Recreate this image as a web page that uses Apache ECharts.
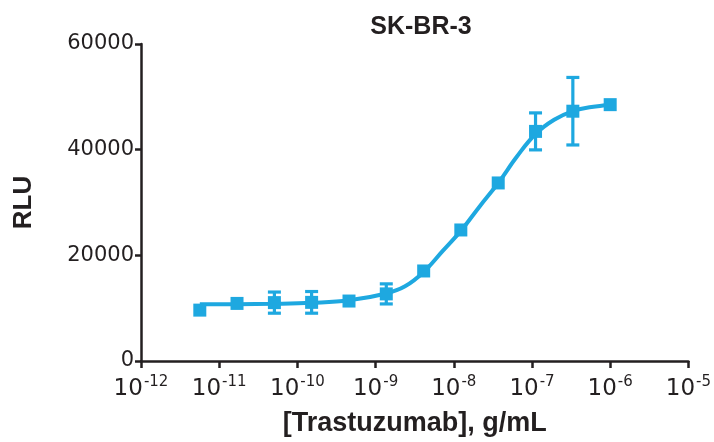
<!DOCTYPE html>
<html>
<head>
<meta charset="utf-8">
<script src="https://cdn.jsdelivr.net/npm/echarts@6/dist/echarts.min.js"></script>
<style>html,body{margin:0;padding:0;background:#fff}#c{width:714px;height:442px}</style>
</head>
<body>
<div id="c"></div>
<script>
// Concentrations (g/mL), 3-fold dilution series
var conc = [5.65e-12, 1.69e-11, 5.08e-11, 1.52e-10, 4.57e-10, 1.37e-9, 4.12e-9, 1.23e-8, 3.70e-8, 1.11e-7, 3.33e-7, 1e-6];
// Mean RLU
var rlu = [9630, 10900, 11050, 11100, 11350, 12700, 17040, 24800, 33700, 43460, 47280, 48520];
// Error (+/-) RLU
var err = [0, 0, 2000, 2050, 0, 1900, 0, 0, 0, 3500, 6390, 0];
// Fitted curve samples
var curveX = [5.65e-12, 1.69e-11, 5.08e-11, 1.52e-10, 4.57e-10, 1.37e-9, 2.38e-9, 4.12e-9, 7.13e-9, 1.23e-8, 2.14e-8, 3.70e-8, 6.42e-8, 1.11e-7, 1.92e-7, 3.33e-7, 5.77e-7, 1e-6];
var curveY = [10740, 10750, 10830, 11020, 11480, 12780, 14130, 16850, 20740, 24630, 29260, 33700, 38700, 42960, 45650, 47310, 48060, 48520];
var yTicks = [0, 20000, 40000, 60000];

var COLOR = '#1ea8e0';
var INK = '#231f20';
var FONT = 'Liberation Sans, Arial, Helvetica, sans-serif';
var TICKFONT = 'DejaVu Sans, sans-serif';

var chart = echarts.init(document.getElementById('c'));
var points = conc.map(function (c, i) { return [c, rlu[i]]; });
var bars = [];
conc.forEach(function (c, i) { if (err[i] > 0) bars.push([c, rlu[i] - err[i], rlu[i] + err[i]]); });
var curve = curveX.map(function (c, i) { return [c, curveY[i]]; });

chart.setOption({
  animation: false,
  title: {
    text: 'SK-BR-3', left: 416, top: 10, textAlign: 'center',
    textStyle: { fontFamily: FONT, fontSize: 25, fontWeight: 'bold', color: INK }
  },
  grid: { left: 141, right: 23, top: 44, bottom: 74, containLabel: false },
  xAxis: {
    type: 'log', logBase: 10, min: 1e-12, max: 1e-5, splitNumber: 7,
    name: '[Trastuzumab], g/mL', nameLocation: 'middle', nameGap: 49,
    nameTextStyle: { fontFamily: FONT, fontSize: 27, fontWeight: 'bold', color: INK },
    axisLine: { lineStyle: { color: INK, width: 2.5 } },
    axisTick: { length: 7, lineStyle: { color: INK, width: 2.5 } },
    splitLine: { show: false },
    minorTick: { show: false },
    axisLabel: {
      margin: 14,
      formatter: function (v) {
        var e = Math.round(Math.log10(v));
        return '{b|10}{s|' + e + '}';
      },
      rich: {
        b: { fontFamily: TICKFONT, fontSize: 23, color: INK },
        s: { fontFamily: TICKFONT, fontSize: 15, color: INK, padding: [0, 0, 14, 1] }
      }
    }
  },
  yAxis: {
    type: 'value', min: 0, max: 60000, interval: 20000,
    name: 'RLU', nameLocation: 'middle', nameGap: 104, nameRotate: 90,
    nameTextStyle: { fontFamily: FONT, fontSize: 26, fontWeight: 'bold', color: INK },
    axisLine: { show: true, lineStyle: { color: INK, width: 2.5 } },
    axisTick: { show: true, length: 6, lineStyle: { color: INK, width: 2.5 } },
    splitLine: { show: false },
    axisLabel: { margin: 7, fontFamily: TICKFONT, fontSize: 21, color: INK,
      formatter: function (v) { return yTicks.indexOf(v) >= 0 ? String(v) : ''; } }
  },
  series: [
    {
      type: 'line', data: curve, smooth: 0.4, showSymbol: false, symbol: 'none',
      lineStyle: { color: COLOR, width: 4 }, z: 2
    },
    {
      type: 'custom', data: bars, z: 3,
      renderItem: function (params, api) {
        var x = api.value(0);
        var lo = api.coord([x, api.value(1)]);
        var hi = api.coord([x, api.value(2)]);
        var w = 6.5;
        var st = { stroke: COLOR, lineWidth: 3.2 };
        return {
          type: 'group', children: [
            { type: 'line', shape: { x1: lo[0], y1: lo[1], x2: hi[0], y2: hi[1] }, style: st },
            { type: 'line', shape: { x1: lo[0] - w, y1: lo[1], x2: lo[0] + w, y2: lo[1] }, style: st },
            { type: 'line', shape: { x1: hi[0] - w, y1: hi[1], x2: hi[0] + w, y2: hi[1] }, style: st }
          ]
        };
      }
    },
    {
      type: 'scatter', data: points, symbol: 'rect', symbolSize: 13,
      itemStyle: { color: COLOR, opacity: 1 }, z: 4
    }
  ]
});
</script>
</body>
</html>
